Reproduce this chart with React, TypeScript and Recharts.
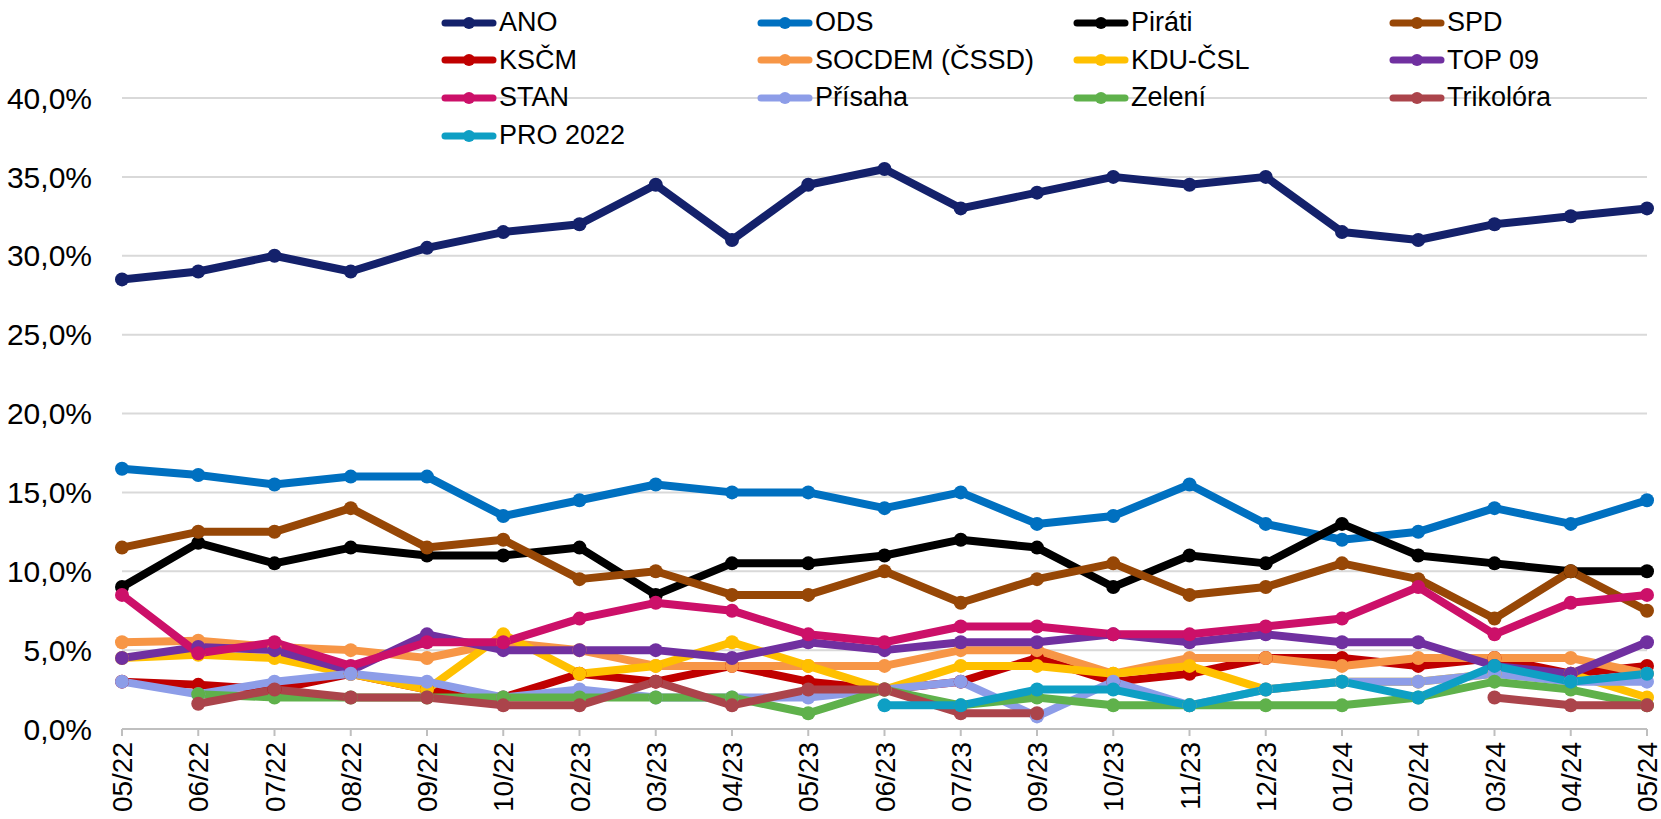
import React from "react";
import { LineChart, Line, XAxis, YAxis, CartesianGrid, Legend } from "recharts";

const months = [
  "05/22", "06/22", "07/22", "08/22", "09/22", "10/22", "02/23", "03/23", "04/23", "05/23", "06/23",
  "07/23", "09/23", "10/23", "11/23", "12/23", "01/24", "02/24", "03/24", "04/24", "05/24",
];

const ano = [28.5, 29, 30, 29, 30.5, 31.5, 32, 34.5, 31, 34.5, 35.5, 33, 34, 35, 34.5, 35, 31.5, 31, 32, 32.5, 33];
const ods = [16.5, 16.1, 15.5, 16, 16, 13.5, 14.5, 15.5, 15, 15, 14, 15, 13, 13.5, 15.5, 13, 12, 12.5, 14, 13, 14.5];
const pirati = [9, 11.8, 10.5, 11.5, 11, 11, 11.5, 8.5, 10.5, 10.5, 11, 12, 11.5, 9, 11, 10.5, 13, 11, 10.5, 10, 10];
const spd = [11.5, 12.5, 12.5, 14, 11.5, 12, 9.5, 10, 8.5, 8.5, 10, 8, 9.5, 10.5, 8.5, 9, 10.5, 9.5, 7, 10, 7.5];
const kscm = [3, 2.8, 2.5, 3.5, 2.5, 2, 3.5, 3, 4, 3, 2.5, 3, 4.5, 3, 3.5, 4.5, 4.5, 4, 4.5, 3.5, 4];
const socdem = [5.5, 5.6, 5.2, 5, 4.5, 5.5, 5, 4, 4, 4, 4, 5, 5, 3.5, 4.5, 4.5, 4, 4.5, 4.5, 4.5, 3.5];
const kdu = [4.5, 4.7, 4.5, 3.5, 2.5, 6, 3.5, 4, 5.5, 4, 2.5, 4, 4, 3.5, 4, 2.5, 3, 3, 3.5, 3.5, 2];
const top09 = [4.5, 5.2, 5, 3.7, 6, 5, 5, 5, 4.5, 5.5, 5, 5.5, 5.5, 6, 5.5, 6, 5.5, 5.5, 4, 3.5, 5.5];
const stan = [8.5, 4.8, 5.5, 4, 5.5, 5.5, 7, 8, 7.5, 6, 5.5, 6.5, 6.5, 6, 6, 6.5, 7, 9, 6, 8, 8.5];
const prisaha = [3, 2.2, 3, 3.5, 3, 2, 2.5, 2, 2, 2, 2.5, 3, 0.8, 3, 1.5, 2.5, 3, 3, 3.5, 3, 3];
const zeleni = [null, 2.2, 2, 2, 2, 2, 2, 2, 2, 1, 2.5, 1.5, 2, 1.5, 1.5, 1.5, 1.5, 2, 3, 2.5, 1.5];
const trikolora = [null, 1.6, 2.5, 2, 2, 1.5, 1.5, 3, 1.5, 2.5, 2.5, 1, 1, null, null, null, null, null, 2, 1.5, 1.5];
const pro2022 = [null, null, null, null, null, null, null, null, null, null, 1.5, 1.5, 2.5, 2.5, 1.5, 2.5, 3, 2, 4, 3, 3.5];

const yTicks = [0, 5, 10, 15, 20, 25, 30, 35, 40];

const series = [
  { key: "ano", name: "ANO", color: "#14216b", values: ano },
  { key: "ods", name: "ODS", color: "#0070c0", values: ods },
  { key: "pirati", name: "Piráti", color: "#000000", values: pirati },
  { key: "spd", name: "SPD", color: "#974706", values: spd },
  { key: "kscm", name: "KSČM", color: "#c00000", values: kscm },
  { key: "socdem", name: "SOCDEM (ČSSD)", color: "#f79646", values: socdem },
  { key: "kdu", name: "KDU-ČSL", color: "#ffc000", values: kdu },
  { key: "top09", name: "TOP 09", color: "#7030a0", values: top09 },
  { key: "stan", name: "STAN", color: "#cc1069", values: stan },
  { key: "prisaha", name: "Přísaha", color: "#8d9de8", values: prisaha },
  { key: "zeleni", name: "Zelení", color: "#5fb14b", values: zeleni },
  { key: "trikolora", name: "Trikolóra", color: "#ab444b", values: trikolora },
  { key: "pro2022", name: "PRO 2022", color: "#0e9fc4", values: pro2022 },
];

const data = months.map((m, i) => {
  const row: Record<string, any> = { month: m };
  series.forEach((s) => {
    row[s.key] = s.values[i];
  });
  return row;
});

const FONT = '"Liberation Sans Narrow", "Arial Narrow", "Liberation Sans", sans-serif';

const pct = (v: number) => v.toFixed(1).replace(".", ",") + "%";

const XTick = ({ x, y, payload }: any) => (
  <g transform={`translate(${x},${y})`}>
    <text
      transform="rotate(-90)"
      x={-4}
      y={0}
      dy="0.36em"
      textAnchor="end"
      fontFamily={FONT}
      fontSize={28}
      fill="#000"
    >
      {payload.value}
    </text>
  </g>
);

const LegendBox = () => (
  <div
    style={{
      display: "grid",
      gridTemplateColumns: "repeat(4, 316px)",
      gridAutoRows: "37.6px",
      fontFamily: FONT,
      fontSize: 27,
      color: "#000",
    }}
  >
    {series.map((s) => (
      <div key={s.key} style={{ display: "flex", alignItems: "center", whiteSpace: "nowrap" }}>
        <svg width={56} height={16} style={{ marginRight: 2 }}>
          <line x1={4} y1={8} x2={52} y2={8} stroke={s.color} strokeWidth={7} strokeLinecap="round" />
          <circle cx={28} cy={8} r={6} fill={s.color} />
        </svg>
        <span>{s.name}</span>
      </div>
    ))}
  </div>
);

export default function App() {
  return (
    <div style={{ position: "absolute", left: 0, top: 0, background: "#fff" }}>
      <LineChart
        width={1661}
        height={819}
        data={data}
        margin={{ top: 98, right: 14, left: 0, bottom: 0 }}
      >
        <CartesianGrid vertical={false} stroke="#d9d9d9" strokeWidth={2} />
        <XAxis
          dataKey="month"
          height={90}
          interval={0}
          stroke="#bfbfbf"
          strokeWidth={2}
          tickSize={7}
          tickMargin={2}
          tick={<XTick />}
        />
        <YAxis
          width={122}
          domain={[0, 40]}
          ticks={yTicks}
          axisLine={false}
          tickLine={false}
          tickSize={0}
          tickMargin={30}
          tickFormatter={pct}
          tick={{ fontFamily: FONT, fontSize: 30, fill: "#000" }}
        />
        <Legend
          layout="horizontal"
          verticalAlign="middle"
          align="center"
          content={<LegendBox />}
          wrapperStyle={{ top: 4, left: 441, width: 1220, height: 152 }}
        />
        {series.map((s) => (
          <Line
            key={s.key}
            dataKey={s.key}
            name={s.name}
            stroke={s.color}
            strokeWidth={8}
            strokeLinejoin="round"
            dot={{ r: 7, fill: s.color, stroke: s.color, strokeWidth: 0 }}
            activeDot={false}
            isAnimationActive={false}
          />
        ))}
      </LineChart>
    </div>
  );
}
